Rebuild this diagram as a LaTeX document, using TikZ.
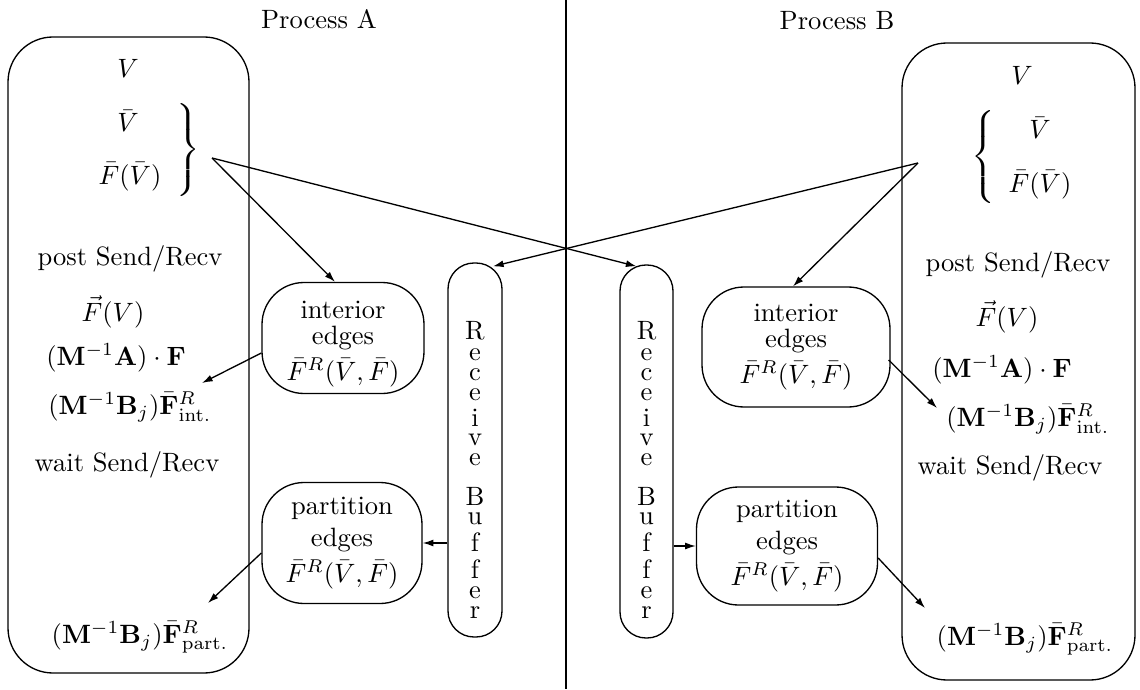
\documentclass[tikz,border=0pt]{standalone}
\usepackage{graphicx}
\usetikzlibrary{calc,arrows.meta}
\def\pxu{0.377pt}
\begin{document}
\begin{tikzpicture}[x=0.377pt,y=-0.377pt, line width=0.5pt,
  >={Latex[length=4pt,width=2.6pt]},
  bigbox/.style={draw, rounded corners=45*\pxu, inner sep=0pt},
  bubble/.style={draw, rounded corners=42*\pxu, align=center, inner sep=0pt},
  bufbox/.style={draw, rounded corners=26*\pxu, inner sep=0pt},
  lbl/.style={inner sep=1pt}]
\useasboundingbox (0,0) rectangle (1140,689);

% divider
\coordinate (dtop) at (566,0);
\coordinate (dbot) at (566,689);
\draw (dtop) -- (dbot);

\node[lbl] (procA) at (319,19) {Process A};
\node[lbl] (procB) at (837,21) {Process B};

% big boxes
\node[bigbox, minimum width=241*\pxu, minimum height=636*\pxu] (boxA) at (128.5,355) {};
\node[bigbox, minimum width=233*\pxu, minimum height=637*\pxu] (boxB) at (1018.5,361.5) {};

% left column
\node[lbl] (vA) at (128,68) {$V$};
\node[lbl] (vbA) at (128,121) {$\bar V$};
\node[lbl] (fvA) at (130,177) {$\bar F(\bar V)$};
\node[lbl] (braceA) at (187,150) {\scalebox{1}[0.84]{$\left.\vrule height 18pt depth 18pt width 0pt\right\}$}};
\coordinate (la) at (212,158);
\node[lbl] (postA) at (130,259) {post Send/Recv};
\node[lbl] (fA) at (113,312) {$\vec F(V)$};
\node[lbl] (maA) at (116,358) {$(\mathbf{M}^{-1}\mathbf{A})\cdot\mathbf{F}$};
\node[lbl] (mbintA) at (130,407) {$(\mathbf{M}^{-1}\mathbf{B}_j)\bar{\mathbf{F}}^R_{\mathrm{int.}}$};
\node[lbl] (waitA) at (127,465) {wait Send/Recv};
\node[lbl] (mbpartA) at (140,637) {$(\mathbf{M}^{-1}\mathbf{B}_j)\bar{\mathbf{F}}^R_{\mathrm{part.}}$};

% right column
\node[lbl] (vB) at (1022,75) {$V$};
\node[lbl] (vbB) at (1040,128) {$\bar V$};
\node[lbl] (fvB) at (1040,185) {$\bar F(\bar V)$};
\node[lbl] (braceB) at (985,157) {\scalebox{1}[0.84]{$\left\{\vrule height 18pt depth 18pt width 0pt\right.$}};
\coordinate (ra) at (918,163);
\node[lbl] (postB) at (1018,265) {post Send/Recv};
\node[lbl] (fB) at (1007,317) {$\vec F(V)$};
\node[lbl] (maB) at (1002,370) {$(\mathbf{M}^{-1}\mathbf{A})\cdot\mathbf{F}$};
\node[lbl] (mbintB) at (1028,419) {$(\mathbf{M}^{-1}\mathbf{B}_j)\bar{\mathbf{F}}^R_{\mathrm{int.}}$};
\node[lbl] (waitB) at (1010,468) {wait Send/Recv};
\node[lbl] (mbpartB) at (1025,639) {$(\mathbf{M}^{-1}\mathbf{B}_j)\bar{\mathbf{F}}^R_{\mathrm{part.}}$};

% bubbles
\node[bubble, minimum width=162*\pxu, minimum height=111*\pxu] (intA) at (343,338) {};
\node[lbl] (intAtxt) at (343,344)
  {\shortstack{interior\\edges\\$\bar F^R(\bar V,\bar F)$}};
\node[bubble, minimum width=160*\pxu, minimum height=121*\pxu] (partA) at (342,543)
  {\shortstack{partition\\edges\\$\bar F^R(\bar V,\bar F)$}};
\node[bubble, minimum width=188*\pxu, minimum height=120*\pxu] (intB) at (796,347)
  {\shortstack{interior\\edges\\$\bar F^R(\bar V,\bar F)$}};
\node[bubble, minimum width=181*\pxu, minimum height=118*\pxu] (partB) at (787,546)
  {\shortstack{partition\\edges\\$\bar F^R(\bar V,\bar F)$}};

% receive buffers
\node[bufbox, minimum width=54*\pxu, minimum height=374*\pxu] (bufA) at (475,450) {};
\node[bufbox, minimum width=53*\pxu, minimum height=373*\pxu] (bufB) at (646.5,451.5) {};
\node[inner sep=0pt] (txtA) at (475,470) {\shortstack{R\\e\\c\\e\\i\\v\\e\\\rule{0pt}{2pt}\\B\\u\\f\\f\\e\\r}};
\node[inner sep=0pt] (txtB) at (646.5,470) {\shortstack{R\\e\\c\\e\\i\\v\\e\\\rule{0pt}{2pt}\\B\\u\\f\\f\\e\\r}};

% arrow end points
\coordinate (tA1) at (202,383);
\coordinate (tA2) at (208,603);
\coordinate (tB1) at (937,408);
\coordinate (tB2) at (925,608);

% connectors
\draw[->] (la) -- ($(intA.north)+(-8,0)$);
\draw[->] (la) -- ($(bufB.north)+(-10,2)$);
\draw[->] (ra) -- ($(bufA.north)+(18,4)$);
\draw[->] (ra) -- ($(intB.north)+(-3,0)$);
\draw[->] ($(intA.west)+(0,15)$) -- (tA1);
\draw[->] ($(partA.west)+(0,10)$) -- (tA2);
\draw[->] ($(intB.east)+(-2,13)$) -- (tB1);
\draw[->] ($(partB.east)+(0,12)$) -- (tB2);
\draw[->] (bufA.west |- partA.east) -- (partA.east);
\draw[->] (bufB.east |- partB.west) -- (partB.west);
\end{tikzpicture}
\end{document}
